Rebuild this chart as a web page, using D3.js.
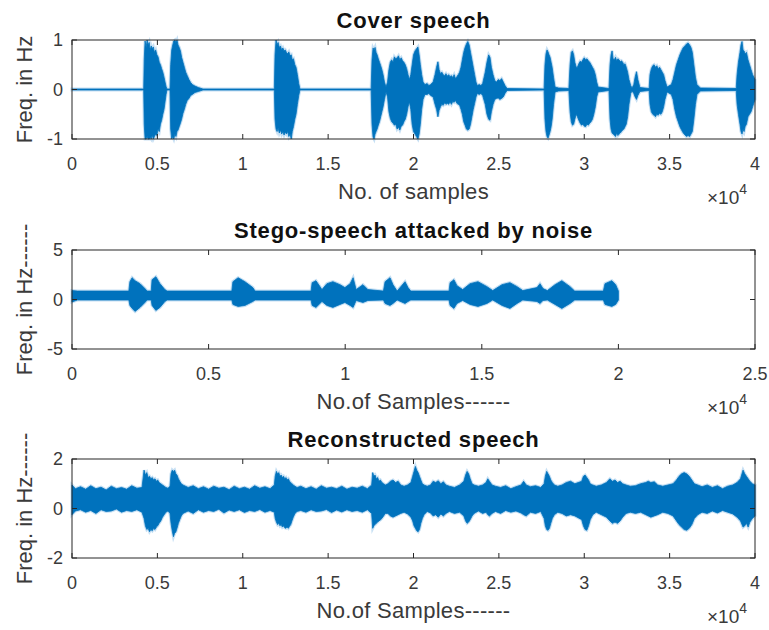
<!DOCTYPE html>
<html>
<head>
<meta charset="utf-8">
<script src="https://cdn.jsdelivr.net/npm/d3@7"></script>
<style>
  body { margin: 0; background: #fff; }
  text { font-family: "Liberation Sans", Arial, sans-serif; }
</style>
</head>
<body>
<div id="div_graph"></div>
<script>
// envelope of each waveform: [sample, upper, lower]
var coverEnv = [
  [0, .01, -.01], [4200, .01, -.01],
  [4230, .6, -.7], [4280, .98, -1], [4340, .85, -1], [4400, 1, -.95], [4460, .9, -1], [4520, .95, -1],
  [4580, .8, -.97], [4640, .88, -1], [4700, .82, -.92], [4760, .86, -1], [4830, .75, -.95], [4900, .8, -.9],
  [4970, .7, -.93], [5040, .66, -.8], [5110, .55, -.85], [5180, .5, -.7], [5250, .42, -.62], [5320, .35, -.5],
  [5390, .25, -.4], [5450, .15, -.25], [5510, .06, -.1], [5560, .01, -.01],
  [5740, .01, -.01], [5780, .5, -.8], [5840, .8, -1], [5900, .9, -.95], [5960, .98, -1], [6030, 1, -.9],
  [6090, .95, -.95], [6150, 1, -.85], [6210, .9, -.82], [6280, .85, -.75], [6350, .78, -.68], [6420, .65, -.6],
  [6500, .55, -.48], [6580, .45, -.4], [6660, .35, -.3], [6750, .28, -.22], [6850, .2, -.18], [6950, .14, -.12],
  [7050, .1, -.1], [7200, .07, -.06], [7400, .04, -.04], [7670, .01, -.01],
  [11850, .01, -.01], [11890, .7, -.6], [11950, 1, -.8], [12010, .9, -.85], [12070, .95, -.78], [12140, .85, -.88],
  [12210, .88, -.82], [12280, .8, -.9], [12350, .84, -.85], [12420, .78, -.92], [12490, .8, -.86], [12560, .75, -.9],
  [12630, .72, -.85], [12700, .76, -.95], [12770, .68, -.9], [12840, .7, -1], [12900, .6, -.85], [12970, .62, -.75],
  [13050, .5, -.6], [13120, .45, -.5], [13200, .3, -.3], [13280, .12, -.12], [13350, .01, -.01],
  [17520, .01, -.01], [17570, .6, -.7], [17630, .84, -.96], [17690, .8, -1], [17750, .85, -.9], [17810, .75, -.85],
  [17870, .7, -.8], [17940, .62, -.72], [18010, .55, -.65], [18080, .48, -.55], [18150, .4, -.45], [18220, .3, -.35],
  [18300, .15, -.2], [18390, .05, -.05],
  [18480, .15, -.15], [18560, .4, -.45], [18640, .55, -.58], [18720, .6, -.65], [18800, .55, -.68], [18880, .66, -.72],
  [18960, .62, -.7], [19040, .64, -.8], [19120, .68, -.76], [19200, .6, -.82], [19280, .64, -.74], [19360, .58, -.72],
  [19440, .55, -.65], [19520, .5, -.6], [19600, .42, -.5], [19680, .3, -.35], [19760, .2, -.25],
  [19840, .3, -.4], [19920, .5, -.7], [20000, .7, -.85], [20090, .78, -.9], [20170, .82, -.95], [20260, .86, -1],
  [20330, .7, -.9], [20400, .5, -.7], [20480, .3, -.4], [20560, .15, -.2], [20670, .1, -.1],
  [20800, .12, -.1], [20900, .08, -.08], [21000, .1, -.12], [21150, .15, -.15],
  [21260, .3, -.3], [21350, .45, -.4], [21430, .56, -.55], [21500, .4, -.42], [21580, .32, -.35], [21660, .35, -.3],
  [21740, .3, -.32], [21820, .28, -.27], [21900, .32, -.3], [21980, .27, -.28], [22060, .3, -.3], [22140, .26, -.25],
  [22220, .28, -.3], [22300, .24, -.24], [22380, .3, -.26], [22460, .22, -.22], [22540, .26, -.28], [22620, .3, -.3],
  [22700, .35, -.32], [22780, .45, -.4], [22860, .6, -.5], [22940, .75, -.65], [23020, .85, -.72], [23100, .92, -.8],
  [23180, .97, -.82], [23260, .9, -.8], [23340, .75, -.7], [23420, .6, -.55], [23500, .45, -.4], [23580, .3, -.28],
  [23660, .15, -.15], [23740, .08, -.08], [23850, .1, -.1], [23950, .08, -.08], [24050, .12, -.12],
  [24200, .35, -.3], [24300, .55, -.5], [24400, .7, -.6], [24480, .65, -.62], [24560, .45, -.45], [24660, .3, -.3],
  [24760, .18, -.2], [24860, .15, -.18], [24960, .2, -.17], [25060, .18, -.2], [25160, .22, -.18], [25260, .15, -.15],
  [25360, .08, -.08], [25480, .02, -.02],
  [27650, .01, -.01], [27700, .5, -.6], [27760, .72, -.85], [27820, .8, -.95], [27880, .76, -.98], [27940, .7, -.92],
  [28000, .65, -.85], [28060, .55, -.75], [28120, .45, -.6], [28200, .25, -.3], [28290, .05, -.05],
  [28500, .03, -.03], [29100, .02, -.02],
  [29170, .5, -.45], [29240, .75, -.65], [29310, .78, -.72], [29380, .7, -.7], [29450, .55, -.6], [29530, .45, -.5],
  [29600, .45, -.55], [29680, .52, -.62], [29760, .57, -.68], [29840, .55, -.72], [29920, .6, -.7], [30000, .64, -.74],
  [30080, .6, -.75], [30160, .62, -.7], [30240, .58, -.72], [30320, .55, -.68], [30400, .5, -.65], [30480, .45, -.6],
  [30560, .4, -.5], [30650, .3, -.35], [30730, .15, -.15], [30810, .05, -.05], [31450, .02, -.02],
  [31510, .5, -.6], [31570, .7, -.8], [31630, .78, -.88], [31690, .62, -.9], [31760, .6, -.92], [31830, .65, -.95],
  [31900, .58, -.88], [31970, .62, -.93], [32040, .6, -.9], [32110, .56, -.88], [32180, .58, -.85], [32250, .55, -.82],
  [32320, .5, -.8], [32390, .52, -.75], [32460, .45, -.7], [32540, .35, -.55], [32620, .2, -.3], [32720, .08, -.08],
  [32800, .03, -.03], [32900, .1, -.08], [32980, .25, -.15], [33060, .36, -.2], [33140, .2, -.12], [33260, .04, -.04],
  [33800, .02, -.02], [33850, .3, -.3], [33930, .42, -.45], [34010, .48, -.5], [34090, .5, -.52], [34170, .45, -.55],
  [34250, .48, -.5], [34330, .42, -.52], [34410, .45, -.48], [34490, .4, -.5], [34570, .35, -.45], [34650, .3, -.35],
  [34730, .18, -.2], [34850, .05, -.05], [35100, .1, -.1],
  [35200, .2, -.2], [35300, .35, -.4], [35400, .5, -.55], [35500, .6, -.65], [35600, .7, -.75], [35700, .78, -.82],
  [35800, .85, -.88], [35900, .88, -.92], [35990, .92, -.95], [36080, .94, -.93], [36170, .9, -.95], [36250, .85, -.9],
  [36330, .75, -.85], [36420, .5, -.6], [36510, .25, -.3], [36600, .1, -.1], [36800, .03, -.03], [38900, .02, -.02],
  [38950, .3, -.3], [39030, .55, -.5], [39120, .75, -.7], [39180, .9, -.85], [39240, .97, -.9], [39300, .8, -.8],
  [39360, .78, -.85], [39420, .72, -.75], [39500, .75, -.7], [39590, .6, -.55], [39680, .5, -.5], [39770, .4, -.45],
  [39860, .3, -.35], [40000, .2, -.2]
];

var stegoEnv = [
  [0, .9, -.25], [200, .85, -.05], [2080, .85, -.05], [2120, 1.8, -.6], [2200, 2.2, -.9],
  [2310, 1.9, -1.2], [2490, 1.6, -.8], [2670, 1.1, -.3], [2750, .85, -.05], [2900, .85, -.05],
  [2930, 2, -.6], [3070, 2.3, -1.1], [3220, 1.6, -.8], [3400, 1, -.2], [3480, .85, -.05],
  [5850, .85, -.05], [5890, 1.8, -.5], [6080, 2.2, -.7], [6330, 1.8, -.6], [6620, 1.2, -.2],
  [6700, .85, -.05], [8750, .85, -.05], [8790, 1.7, -.6], [8930, 1.9, -.8], [9150, 1, -.2],
  [9330, 1.6, -.6], [9550, 1.8, -.8], [9810, 1.5, -.5], [9990, 1.2, -.3], [10180, 1.6, -.6],
  [10290, 2.2, -.8], [10400, 1, -.1], [10650, 1.5, -.3], [10830, 1, -.1], [11400, .85, -.05],
  [11460, 1.8, -.4], [11640, 2.2, -.6], [11750, 1.5, -.4], [11900, .85, -.05], [12190, 1.8, -.4],
  [12300, 1.2, -.2], [12400, .85, -.05], [13800, .85, -.05], [13840, 1.7, -.6], [13980, 2, -.9],
  [14090, 1.4, -.4], [14300, 1, -.1], [14570, 1.6, -.5], [14860, 1.8, -.7], [15190, 1.3, -.4],
  [15400, .9, -.05], [15740, 1.5, -.6], [16030, 1.7, -.9], [16290, 1.3, -.4], [16500, .9, -.05],
  [17020, 1.2, -.2], [17130, 1.6, -.4], [17240, 1.1, -.1], [17400, .9, -.05], [17680, 1.5, -.5],
  [17930, 1.9, -.9], [18230, 1.3, -.4], [18400, .85, -.05], [19450, .85, -.05], [19510, 1.6, -.5],
  [19760, 1.9, -.7], [19900, 1.5, -.5], [20000, .85, -.05]
];

var reconEnv = [
  [0, .95, -.25], [200, .8, -.1], [500, .88, -.05], [800, .78, -.15], [1100, .92, -.08], [1400, .8, -.2],
  [1700, .86, -.05], [2000, .75, -.12], [2300, .9, -.1], [2600, .8, -.02], [2900, .85, -.15], [3200, .78, -.08],
  [3500, .92, -.12], [3800, .82, -.05], [4100, .85, -.15],
  [4220, 1.55, -.4], [4300, 1.35, -.7], [4380, 1.45, -.85], [4460, 1.25, -.8], [4540, 1.3, -.94], [4620, 1.2, -.85],
  [4700, 1.25, -.9], [4780, 1.15, -.8], [4860, 1.2, -.85], [4940, 1.1, -.75], [5020, 1.15, -.7], [5100, 1.05, -.6],
  [5200, 1, -.5], [5300, .95, -.35], [5400, .9, -.25], [5500, .85, -.15], [5620, .82, -.1],
  [5740, .9, -.2], [5800, 1.4, -.6], [5870, 1.55, -.9], [5940, 1.5, -1.14], [6010, 1.55, -1], [6080, 1.4, -.95],
  [6150, 1.35, -.8], [6230, 1.2, -.6], [6310, 1.1, -.45], [6400, 1, -.3], [6500, .95, -.2],
  [6800, .85, -.1], [7100, .92, -.2], [7400, .8, -.05], [7700, .88, -.15], [8000, .78, -.08], [8300, .9, -.12],
  [8600, .82, -.03], [8900, .86, -.18], [9200, .76, -.06], [9500, .9, -.12], [9800, .8, -.05], [10100, .86, -.16],
  [10400, .78, -.08], [10700, .92, -.12], [11000, .82, -.04], [11300, .88, -.15], [11600, .8, -.08],
  [11850, .95, -.15], [11900, 1.3, -.4], [11970, 1.5, -.55], [12040, 1.4, -.65], [12110, 1.45, -.6], [12180, 1.3, -.7],
  [12250, 1.35, -.65], [12320, 1.25, -.75], [12390, 1.3, -.7], [12460, 1.2, -.78], [12530, 1.25, -.8], [12600, 1.15, -.75],
  [12670, 1.2, -.8], [12740, 1.1, -.72], [12810, 1.05, -.65], [12880, 1, -.5], [12960, .95, -.35], [13060, .9, -.2],
  [13180, .85, -.12],
  [13400, .9, -.08], [13700, .8, -.15], [14000, .88, -.05], [14300, .78, -.12], [14600, .92, -.1], [14900, .82, -.04],
  [15200, .86, -.16], [15500, .8, -.06], [15800, .9, -.14], [16100, .78, -.05], [16400, .86, -.12], [16700, .82, -.08],
  [17000, .9, -.15], [17300, .8, -.05],
  [17550, .95, -.2], [17610, 1.45, -.8], [17680, 1.3, -.7], [17750, 1.35, -.65], [17820, 1.2, -.6], [17900, 1.25, -.55],
  [17980, 1.1, -.5], [18060, 1.15, -.46], [18150, 1.05, -.4], [18250, 1, -.3], [18350, .95, -.2],
  [18500, 1, -.2], [18650, 1.1, -.3], [18800, 1.15, -.35], [18950, 1.05, -.3], [19100, 1.1, -.25], [19250, .95, -.2],
  [19450, .9, -.15], [19650, .95, -.22],
  [19850, 1.05, -.35], [19950, 1.3, -.5], [20030, 1.5, -.7], [20110, 1.7, -.8], [20190, 1.55, -.9], [20270, 1.45, -.94],
  [20350, 1.3, -.85], [20430, 1.15, -.6], [20520, 1, -.4], [20620, .95, -.25],
  [20800, .9, -.12], [21000, .95, -.18], [21150, 1.1, -.3], [21300, 1.05, -.25], [21450, 1.12, -.35], [21600, 1, -.22],
  [21750, 1.08, -.3], [21900, .95, -.2], [22100, .9, -.12], [22400, .85, -.2], [22700, .95, -.15],
  [22950, 1.1, -.3], [23050, 1.35, -.5], [23140, 1.5, -.6], [23230, 1.4, -.55], [23320, 1.2, -.45], [23430, 1, -.3],
  [23550, .95, -.2], [23800, .9, -.1], [24050, .95, -.2], [24250, 1.05, -.15], [24350, 1.2, -.25], [24450, 1.1, -.3],
  [24600, .95, -.2], [24800, .9, -.12], [25100, .85, -.2], [25400, .92, -.08], [25700, .8, -.15], [26000, .88, -.1],
  [26300, .95, -.18], [26450, 1.1, -.25], [26600, .95, -.3], [26850, .88, -.15], [27150, .92, -.2], [27450, .85, -.12],
  [27650, 1, -.4], [27720, 1.3, -.7], [27800, 1.5, -.85], [27880, 1.4, -.88], [27960, 1.3, -.8], [28040, 1.15, -.6],
  [28130, 1.05, -.4], [28250, .95, -.25], [28450, .9, -.15], [28700, .95, -.2], [28950, 1.05, -.3], [29200, 1.1, -.25],
  [29450, 1, -.3], [29850, 1.1, -.45], [29950, 1.3, -.7], [30050, 1.35, -.85], [30150, 1.25, -.88], [30250, 1.15, -.7],
  [30350, 1, -.45], [30500, .95, -.25], [30700, .9, -.15], [31000, .95, -.25], [31300, 1.05, -.35], [31500, 1.2, -.5],
  [31650, 1.1, -.6], [31800, 1.15, -.55], [31950, 1.05, -.6], [32100, 1.1, -.5], [32250, 1, -.35], [32450, .95, -.2],
  [32700, .9, -.15], [33000, .92, -.2], [33300, 1, -.15], [33600, 1.05, -.25], [33750, 1.1, -.3], [33900, 1.05, -.35],
  [34100, 1.08, -.3], [34300, .95, -.25], [34600, .9, -.15], [34900, .95, -.2],
  [35200, 1, -.3], [35400, 1.15, -.5], [35550, 1.3, -.65], [35700, 1.4, -.75], [35850, 1.45, -.85], [36000, 1.4, -.88],
  [36150, 1.3, -.8], [36300, 1.15, -.65], [36450, 1, -.4], [36650, .95, -.25], [36900, .88, -.15], [37200, .95, -.2],
  [37500, .85, -.1], [37800, .92, -.18], [38100, .8, -.08], [38400, .9, -.15], [38700, .95, -.22],
  [38950, 1.05, -.35], [39150, 1.2, -.5], [39300, 1.55, -.75], [39400, 1.4, -.7], [39500, 1.3, -.6], [39600, 1.2, -.75],
  [39700, 1.1, -.55], [39850, 1, -.4], [40000, .95, -.3]
];

var ticks40k = [0, 5000, 10000, 15000, 20000, 25000, 30000, 35000, 40000];
var ticks25k = [0, 5000, 10000, 15000, 20000, 25000];

var titles = ['Cover speech', 'Stego-speech attacked by noise', 'Reconstructed speech'];
var xLabels = ['No. of samples', 'No.of Samples------', 'No.of Samples------'];
var yLabels = ['Freq. in Hz', 'Freq. in Hz------', 'Freq. in Hz------'];
var yLimits = [1, 5, 2];
var xLimits = [40000, 25000, 40000];

var width = 769, height = 630,
    axLeft = 72, axRight = 755,
    tops = [40, 250, 459], axH = 99;

var lineColor = '#0072BD', axisColor = '#262626', textColor = '#3a3a3a';

var svg = d3.select('#div_graph')
  .append('svg')
    .attr('width', width)
    .attr('height', height);

var envs = [coverEnv, stegoEnv, reconEnv];
var xTickSets = [ticks40k, ticks25k, ticks40k];

envs.forEach(function(env, i){
  var top = tops[i], bottom = top + axH;
  var x = d3.scaleLinear().domain([0, xLimits[i]]).range([axLeft, axRight]);
  var y = d3.scaleLinear().domain([-yLimits[i], yLimits[i]]).range([bottom, top]);
  var yt = [-yLimits[i], 0, yLimits[i]];

  var g = svg.append('g').attr('class', 'panel');

  var area = d3.area()
    .x(function(d){ return x(d[0]); })
    .y0(function(d){ return y(d[2]); })
    .y1(function(d){ return y(d[1]); });

  // soft halo then solid fill
  g.append('path')
    .datum(env)
    .attr('d', area)
    .attr('fill', '#c7e0f4')
    .attr('stroke', '#c7e0f4')
    .attr('stroke-width', 3);
  g.append('path')
    .datum(env)
    .attr('d', area)
    .attr('fill', lineColor)
    .attr('stroke', lineColor)
    .attr('stroke-width', 0.8);

  // box
  g.append('rect')
    .attr('x', axLeft).attr('y', top)
    .attr('width', axRight - axLeft).attr('height', axH)
    .attr('fill', 'none')
    .attr('stroke', axisColor)
    .attr('stroke-width', 1);

  // inward ticks on all four sides
  g.selectAll('.xtick')
    .data(xTickSets[i]).enter()
    .append('path')
      .attr('class', 'xtick')
      .attr('d', function(d){
        var px = x(d);
        return 'M' + px + ',' + bottom + 'v-5M' + px + ',' + top + 'v5';
      })
      .attr('stroke', axisColor);

  g.selectAll('.ytick')
    .data(yt).enter()
    .append('path')
      .attr('class', 'ytick')
      .attr('d', function(d){
        var py = y(d);
        return 'M' + axLeft + ',' + py + 'h5M' + axRight + ',' + py + 'h-5';
      })
      .attr('stroke', axisColor);

  g.selectAll('.xlab')
    .data(xTickSets[i]).enter()
    .append('text')
      .attr('x', function(d){ return x(d); })
      .attr('y', bottom + 31)
      .attr('font-size', 18)
      .attr('fill', textColor)
      .attr('text-anchor', 'middle')
      .text(function(d){ return d / 10000; });

  g.selectAll('.ylab')
    .data(yt).enter()
    .append('text')
      .attr('x', axLeft - 9)
      .attr('y', function(d){ return y(d) + 6; })
      .attr('font-size', 18)
      .attr('fill', textColor)
      .attr('text-anchor', 'end')
      .text(function(d){ return d; });

  g.append('text')
    .attr('x', (axLeft + axRight) / 2)
    .attr('y', top - 12)
    .attr('font-size', 22)
    .attr('font-weight', 'bold')
    .attr('letter-spacing', 0.8)
    .attr('fill', '#111')
    .attr('text-anchor', 'middle')
    .text(titles[i]);

  g.append('text')
    .attr('x', (axLeft + axRight) / 2)
    .attr('y', bottom + 60)
    .attr('font-size', 22)
    .attr('letter-spacing', 0.3)
    .attr('fill', textColor)
    .attr('text-anchor', 'middle')
    .text(xLabels[i]);

  g.append('text')
    .attr('transform', 'translate(32,' + (top + axH / 2) + ') rotate(-90)')
    .attr('font-size', 22)
    .attr('fill', textColor)
    .attr('text-anchor', 'middle')
    .text(yLabels[i]);

  var ex = g.append('text')
    .attr('x', 707)
    .attr('y', bottom + 65)
    .attr('font-size', 19)
    .attr('fill', textColor);
  ex.append('tspan').text('\u00d710');
  ex.append('tspan').attr('dy', -10).attr('font-size', 14).text('4');
});
</script>
</body>
</html>
